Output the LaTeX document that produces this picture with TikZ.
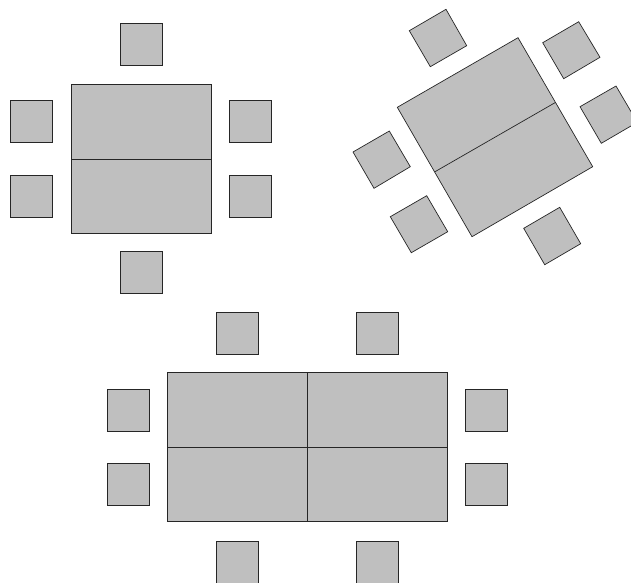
\documentclass[tikz,border=0pt]{standalone}
\tikzset{
  furniture/.style={draw=black!85, fill=black!25, line width=0.7pt, line join=miter},
  seam/.style={draw=black!85, line width=0.7pt},
}
\begin{document}
\begin{tikzpicture}[x=1pt,y=-1pt]
\useasboundingbox (0,0) rectangle (631,582);
\clip (0,0) rectangle (631,582);
% --- top-left table ---
\path[furniture] (71.3,84.3) rectangle (210.9,233.3);
\draw[seam] (71.3,159.3) -- (210.9,159.3);
\foreach \cx/\cy in {120/23.7, 10.3/100.4, 10.3/175.1, 229.3/100.4, 229.3/175.1, 120/251.4}
  \path[furniture] (\cx,\cy) rectangle ++(42,42);
% --- top-right table, turned 30 degrees ---
\path[furniture] (518,37.7) -- (592.7,166.7) -- (472,236.7) -- (397.3,107.3) -- cycle;
\draw[seam] (555.7,102.3) -- (435,171.7);
\foreach \ax/\ay/\bx/\by/\cx/\cy/\dx/\dy in {
  446/9.3/466.7/45.7/430.3/66.7/409.3/30.7,
  578.7/21.7/600/57.3/563.7/78.7/542.7/42.7,
  616/86/637.3/122.3/601.3/143.3/580/106.7,
  389.3/131/410.3/166.7/374/188.3/353/152,
  426.7/195.7/447.7/231.7/411.3/252.7/390.3/216.7,
  559.7/207.3/580.7/243.7/544.7/264.7/523.7/228.3}
  \path[furniture] (\ax,\ay) -- (\bx,\by) -- (\cx,\cy) -- (\dx,\dy) -- cycle;
% --- bottom table ---
\path[furniture] (167.7,372.4) rectangle (447,521.7);
\draw[seam] (167.7,447.3) -- (447,447.3);
\draw[seam] (307.3,372.4) -- (307.3,521.7);
\foreach \cx/\cy in {216.5/312.4, 356.4/312.4, 106.9/389.2, 106.9/463.7, 465.8/389.2, 465.8/463.7, 216.5/541, 356.4/541}
  \path[furniture] (\cx,\cy) rectangle ++(42,42);
\end{tikzpicture}
\end{document}
